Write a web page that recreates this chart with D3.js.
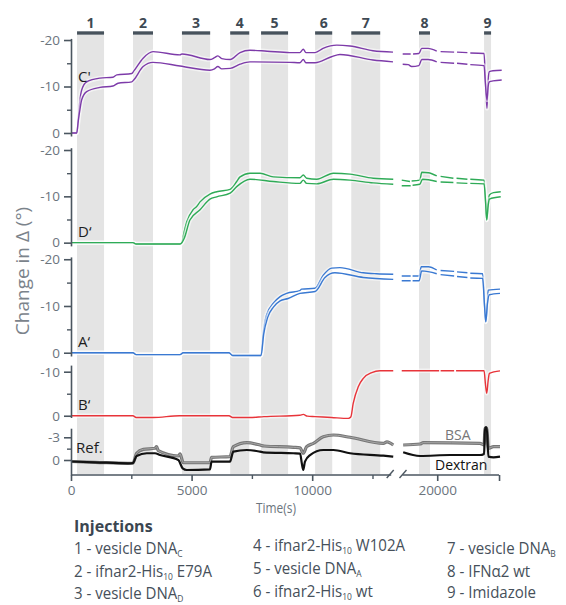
<!DOCTYPE html>
<html>
<head>
<meta charset="utf-8">
<script src="https://cdn.jsdelivr.net/npm/d3@7"></script>
<style>
  body { margin: 0; background: #fff; }
  svg { display: block; }
  text { font-family: "Open Sans", "DejaVu Sans", sans-serif; }
</style>
</head>
<body>
<svg id="chart" width="566" height="605"></svg>
<script>
// ---- Injection schedule (seconds) ----
const injectionIds = ["1", "2", "3", "4", "5", "6", "7", "8", "9"];
const injectionStart = [250, 2570, 4600, 6600, 7880, 10120, 11620, 19245, 21940];
const injectionEnd   = [1370, 3400, 5770, 7390, 9000, 10830, 12820, 19700, 22230];
const injectionNames = [
  "1 - vesicle DNA_{C}",
  "2 - ifnar2-His_{10} E79A",
  "3 - vesicle DNA_{D}",
  "4 - ifnar2-His_{10} W102A",
  "5 - vesicle DNA_{A}",
  "6 - ifnar2-His_{10} wt",
  "7 - vesicle DNA_{B}",
  "8 - IFNα2 wt",
  "9 - Imidazole"
];

// ---- Axis ticks ----
const xTicksMajor = [0, 5000, 10000, 20000];
const xTicksMinor = [2500, 7500, 12500];
const xTickEnd = [22500];
const yTicks20 = [-20, -10, 0];
const yMinor20 = [-15, -5];
const yTicksB = [-10, 0];
const yMinorB = [-5];
const yTicksRef = [-3, 0];
const yMinorRef = [-1.5];

// ---- Traces: [time (s), change in Δ (°)]; null marks a gap in the recording ----
const cTraceA = [[0,0],[240,0],[300,-3],[360,-6.5],[440,-9.2],[650,-11.0],[1200,-11.8],[1740,-12.0],[1900,-12.5],[2520,-12.8],[2600,-13.3],[2990,-16.1],[3400,-17.5],[4520,-16.8],[4600,-17.0],[5760,-15.8],[5950,-16.2],[6090,-16.6],[6250,-16.0],[6600,-15.8],[7010,-17.3],[7420,-17.8],[8130,-17.6],[9080,-17.3],[9490,-17.3],[9630,-18.0],[9740,-17.3],[10120,-17.3],[10450,-18.2],[11020,-18.9],[11570,-18.7],[12520,-17.7],[13350,-17.4],[16000,null],[18570,-17.0],[18900,-17.0],[18950,null],[19000,-17.0],[19240,-17.1],[19360,-18.2],[19620,-18.2],[19980,-17.6],[20080,null],[20140,-17.5],[20700,-17.4],[20760,null],[20820,-17.4],[21250,-17.3],[21310,null],[21370,-17.2],[21940,-17.1],[21990,-12.0],[22060,-5.3],[22110,-11.5],[22160,-13.2],[22310,-13.4],[22670,-13.5]];
const cTraceB = [[0,0],[240,0],[300,-2.5],[370,-5.0],[440,-7.1],[650,-8.9],[1200,-9.8],[1740,-10.1],[1950,-10.7],[2520,-11.0],[2600,-11.4],[2990,-14.3],[3400,-15.2],[4520,-14.4],[5760,-13.5],[5950,-13.8],[6090,-14.3],[6250,-13.8],[6600,-13.9],[7010,-14.8],[7420,-15.3],[9080,-15.2],[9490,-15.1],[9630,-15.8],[9740,-15.1],[10120,-15.1],[10800,-16.4],[11150,-16.9],[12520,-15.7],[13350,-15.3],[16000,null],[18570,-14.8],[18800,-14.7],[18940,-14.3],[19240,-14.5],[19360,-15.8],[19620,-15.8],[19980,-15.3],[20080,null],[20140,-15.2],[20700,-15.0],[20760,null],[20820,-15.0],[21250,-14.8],[21310,null],[21370,-14.7],[21940,-14.5],[21990,-11.0],[22060,-7.1],[22110,-10.0],[22160,-11.0],[22310,-11.2],[22670,-11.4]];

const dTraceA = [[0,0],[2570,0],[2700,0.3],[4520,0.3],[4600,0],[4650,-1.3],[4800,-4.5],[5060,-7.1],[5210,-7.8],[5350,-8.8],[5760,-10.5],[6040,-11.0],[6600,-11.5],[6720,-12.1],[6870,-13.2],[7010,-14.2],[7420,-15.0],[7840,-15.0],[8390,-14.2],[9490,-14.0],[9630,-14.6],[9770,-13.9],[10190,-13.7],[10880,-15.0],[11570,-14.8],[12530,-13.9],[13360,-13.7],[16000,null],[18530,-13.5],[18870,-13.2],[18900,null],[18940,-13.3],[19280,-13.5],[19360,-15.2],[19630,-15.1],[19980,-14.4],[20080,null],[20140,-14.3],[20670,-13.9],[20740,null],[20800,-13.9],[21250,-13.7],[21310,null],[21370,-13.7],[21940,-13.5],[22000,-9.0],[22050,-4.9],[22110,-8.5],[22160,-10.3],[22330,-10.8],[22630,-11.0]];
const dTraceB = [[0,0],[2570,0],[2700,0.3],[4520,0.3],[4600,0],[4700,-1.0],[4930,-4.9],[5350,-7.1],[5760,-9.4],[6040,-9.9],[6600,-10.7],[6870,-12.1],[7420,-13.7],[8390,-13.2],[9490,-12.8],[9630,-13.5],[9770,-12.8],[10190,-12.7],[10880,-13.7],[11570,-13.5],[12530,-12.9],[13360,-12.6],[16000,null],[18530,-12.3],[18900,-12.3],[18940,null],[18980,-12.4],[19280,-12.6],[19390,-13.7],[19980,-13.2],[20080,null],[20140,-13.1],[20670,-13.0],[20740,null],[20800,-12.9],[21250,-12.8],[21310,null],[21370,-12.8],[21940,-12.7],[22000,-9.0],[22050,-4.9],[22110,-8.0],[22160,-9.4],[22630,-9.9]];

const aTraceA = [[0,0],[2570,0],[2700,0.4],[4520,0.4],[4650,0],[6550,0],[6700,0.6],[7880,0.6],[7970,-4.2],[8110,-8.1],[8390,-10.6],[8670,-12.0],[8940,-12.7],[9490,-13.3],[9560,-13.6],[10120,-13.8],[10460,-16.6],[10810,-18.1],[11150,-18.2],[12120,-17.1],[12670,-16.9],[13360,-16.8],[16000,null],[18530,-16.4],[18900,-16.4],[18940,null],[18980,-16.4],[19250,-16.4],[19340,-18.4],[19630,-18.4],[19980,-17.7],[20080,null],[20140,-17.6],[20700,-17.4],[20760,null],[20820,-17.3],[21250,-17.1],[21310,null],[21370,-17.0],[21880,-16.9],[21960,-10.0],[22010,-6.6],[22080,-11.0],[22110,-13.4],[22600,-13.6]];
const aTraceB = [[0,0],[2570,0],[2700,0.4],[4520,0.4],[4650,0],[6550,0],[6700,0.6],[7880,0.6],[7990,-4.0],[8150,-7.5],[8400,-9.8],[8670,-11.1],[9000,-11.6],[9490,-12.7],[10120,-13.1],[10530,-16.1],[10940,-17.1],[12120,-16.1],[13360,-15.7],[16000,null],[18530,-15.4],[18900,-15.4],[18940,null],[18980,-15.4],[19250,-15.4],[19360,-17.5],[19980,-16.9],[20080,null],[20140,-16.7],[20700,-16.4],[20760,null],[20820,-16.3],[21250,-16.1],[21310,null],[21370,-16.0],[21880,-15.9],[21960,-10.0],[22010,-6.6],[22080,-10.5],[22160,-12.4],[22600,-12.7]];

const bTrace = [[0,0],[2570,0],[2700,0.4],[3400,0.4],[4500,0],[6550,0],[6700,0.4],[7400,0.4],[8000,0.2],[9490,-0.1],[9630,-0.3],[9800,0.1],[10120,0.2],[10800,0.4],[11500,0.6],[11600,0.3],[11700,-2.8],[11910,-6.6],[12120,-8.5],[12470,-9.8],[12810,-10.2],[13360,-10.2],[16000,null],[18530,-10.2],[20080,-10.2],[20110,null],[20140,-10.2],[20700,-10.2],[20740,null],[20780,-10.2],[21940,-10.2],[22000,-7.0],[22050,-5.1],[22110,-8.0],[22160,-9.6],[22600,-10.2]];

const bsaTrace = [[0,0.2],[1000,0.3],[2360,0.44],[2570,0.4],[2720,-0.89],[3000,-1.41],[3480,-1.55],[3550,-1.76],[3620,-1.23],[4450,-0.53],[4520,-0.8],[4630,0.22],[4660,0.36],[5760,0.36],[5830,-0.36],[6590,-0.44],[6730,-1.76],[7290,-2.29],[7840,-1.98],[8000,-1.85],[9220,-1.68],[9500,-1.6],[9630,-0.89],[9770,-1.76],[10050,-2.2],[10460,-3.08],[10880,-3.3],[11570,-3.0],[12950,-2.2],[13100,-2.4],[13360,-1.98],[16000,null],[18590,-1.98],[19290,-2.11],[19420,-2.29],[21770,-2.2],[21940,-2.0],[21980,-4.19],[22050,-4.19],[22120,-1.55],[22330,-1.76],[22600,-1.76]];
const dextranTrace = [[0,0.2],[1000,0.3],[2360,0.44],[2570,0.4],[2720,-0.53],[3140,-0.89],[3480,-0.89],[3690,-0.66],[4450,0],[4630,1.1],[4800,1.32],[5760,1.23],[5830,0.22],[6590,0.22],[6730,-1.1],[7290,-1.32],[7840,-1.1],[7970,-1.02],[9220,-0.89],[9500,-0.85],[9570,0.44],[9630,1.32],[9700,0.22],[9910,-0.66],[10460,-1.32],[10880,-1.32],[11570,-0.89],[12950,-0.57],[13360,-0.44],[16000,null],[18590,-1.02],[19290,-0.53],[20530,-0.66],[21770,-0.66],[21940,-0.8],[21980,-4.3],[22050,-4.3],[22120,-0.44],[22330,-0.36],[22600,-0.44]];

// ---- Layout ----
const svg = d3.select("#chart");
const axisColor = "#4b5660";
const tickTextColor = "#6b747d";
const bandTop = 35, bandBottom = 474;

// Broken time axis: 13400 s .. 18500 s is cut out
const x = d3.scaleLinear()
  .domain([0, 13400, 18500, 22600])
  .range([71, 394.2, 401, 500]);

const panels = [
  { label: "C'", traces: [cTraceA, cTraceB], color: "#7d3ba9", domain: [0.65, -20.35], range: [136, 38.4], ticks: yTicks20, minor: yMinor20, lx: 78, ly: 82 },
  { label: "D‘", traces: [dTraceA, dTraceB], color: "#2fab57", domain: [0.7, -20.5], range: [245.9, 147.7], ticks: yTicks20, minor: yMinor20, lx: 78, ly: 237 },
  { label: "A‘", traces: [aTraceA, aTraceB], color: "#3a79d2", domain: [0.7, -20.5], range: [356, 256.9], ticks: yTicks20, minor: yMinor20, lx: 78, ly: 347 },
  { label: "B‘", traces: [bTrace], color: "#e8343a", domain: [0.4, -11.5], range: [417.5, 365.1], ticks: yTicksB, minor: yMinorB, lx: 78, ly: 410 },
  { label: "Ref.", traces: [], color: "#111", domain: [1.98, -4.2], range: [475, 428.2], ticks: yTicksRef, minor: yMinorRef, lx: 76, ly: 453 }
];

// Injection windows (shaded)
svg.append("g").selectAll("rect")
  .data(injectionIds)
  .join("rect")
  .attr("x", (d, i) => x(injectionStart[i]))
  .attr("width", (d, i) => x(injectionEnd[i]) - x(injectionStart[i]))
  .attr("y", bandTop)
  .attr("height", bandBottom - bandTop)
  .attr("fill", "#e4e4e4");

// Injection markers on top
const marks = svg.append("g");
marks.selectAll("line")
  .data(injectionIds)
  .join("line")
  .attr("x1", (d, i) => x(injectionStart[i]))
  .attr("x2", (d, i) => x(injectionEnd[i]))
  .attr("y1", 33).attr("y2", 33)
  .attr("stroke", "#47525c")
  .attr("stroke-width", 3.4);
marks.selectAll("text")
  .data(injectionIds)
  .join("text")
  .attr("x", (d, i) => (x(injectionStart[i]) + x(injectionEnd[i])) / 2)
  .attr("y", 28)
  .attr("text-anchor", "middle")
  .attr("font-size", 14)
  .attr("font-weight", "bold")
  .attr("fill", "#3e4953")
  .text(d => d);

// Panels
panels.forEach(p => {
  const y = d3.scaleLinear().domain(p.domain).range(p.range);
  const line = d3.line()
    .defined(d => d[1] !== null)
    .x(d => x(d[0]))
    .y(d => y(d[1]))
    .curve(d3.curveMonotoneX);
  const g = svg.append("g");

  p.traces.forEach(tr => {
    g.append("path").datum(tr).attr("d", line)
      .attr("fill", "none").attr("stroke", "#fff").attr("stroke-opacity", 0.55)
      .attr("stroke-width", 4.5).attr("stroke-linejoin", "round");
    g.append("path").datum(tr).attr("d", line)
      .attr("fill", "none").attr("stroke", p.color)
      .attr("stroke-width", 1.4).attr("stroke-linejoin", "round");
  });

  if (p.label === "Ref.") {
    g.append("path").datum(bsaTrace).attr("d", line)
      .attr("fill", "none").attr("stroke", "#777").attr("stroke-width", 3.2)
      .attr("stroke-linejoin", "round");
    g.append("path").datum(bsaTrace).attr("d", line)
      .attr("fill", "none").attr("stroke", "#a8a8a8").attr("stroke-width", 1)
      .attr("stroke-linejoin", "round");
    g.append("path").datum(dextranTrace).attr("d", line)
      .attr("fill", "none").attr("stroke", "#111").attr("stroke-width", 2.2)
      .attr("stroke-linejoin", "round");
    g.append("text").attr("x", 445).attr("y", 440)
      .attr("font-family", "Liberation Sans, Arial, sans-serif")
      .attr("font-size", 14).attr("fill", "#777").text("BSA");
    g.append("text").attr("x", 435).attr("y", 470)
      .attr("font-family", "Liberation Sans, Arial, sans-serif")
      .attr("font-size", 14).attr("fill", "#111").text("Dextran");
  }

  // Y axis
  const ax = svg.append("g").attr("transform", "translate(71,0)")
    .call(d3.axisLeft(y).tickValues(p.ticks).tickSize(7).tickSizeOuter(0).tickPadding(4)
      .tickFormat(d => String(d)));
  ax.select(".domain").attr("stroke", axisColor).attr("stroke-width", 1.6);
  ax.selectAll(".tick line").attr("stroke", axisColor).attr("stroke-width", 1.6);
  ax.selectAll(".tick text").attr("font-size", 13.5).attr("fill", tickTextColor)
    .attr("font-family", "Open Sans, sans-serif");
  const axm = svg.append("g").attr("transform", "translate(71,0)")
    .call(d3.axisLeft(y).tickValues(p.minor).tickSize(4).tickFormat(""));
  axm.select(".domain").remove();
  axm.selectAll(".tick line").attr("stroke", axisColor).attr("stroke-width", 1.4);

  // Panel label
  svg.append("text").attr("x", p.lx).attr("y", p.ly)
    .attr("font-family", "Liberation Sans, Arial, sans-serif")
    .attr("font-size", 15).attr("fill", "#1d1d1d").text(p.label);
});

// X axis (two segments around the break)
const xAxisY = 475;
const xg = svg.append("g").attr("transform", `translate(0,${xAxisY})`);
xg.append("line").attr("x1", x(0)).attr("x2", x(13400) - 3)
  .attr("stroke", axisColor).attr("stroke-width", 1.6);
xg.append("line").attr("x1", x(18500) + 1.5).attr("x2", x(22560))
  .attr("stroke", axisColor).attr("stroke-width", 1.6);
const xa = xg.append("g")
  .call(d3.axisBottom(x).tickValues(xTicksMajor).tickSize(6).tickPadding(4).tickFormat(d => String(d)));
xa.select(".domain").remove();
xa.selectAll(".tick line").attr("stroke", axisColor).attr("stroke-width", 1.6);
xa.selectAll(".tick text").attr("font-size", 13.5).attr("fill", tickTextColor)
  .attr("font-family", "Open Sans, sans-serif");
const xm = xg.append("g")
  .call(d3.axisBottom(x).tickValues(xTicksMinor).tickSize(4).tickFormat(""));
xm.select(".domain").remove();
xm.selectAll(".tick line").attr("stroke", axisColor).attr("stroke-width", 1.4);
const xe = xg.append("g")
  .call(d3.axisBottom(x).tickValues(xTickEnd).tickSize(6).tickFormat(""));
xe.select(".domain").remove();
xe.selectAll(".tick line").attr("stroke", axisColor).attr("stroke-width", 1.6)
  .attr("transform", `translate(${x(22560) - x(22500)},0)`);

// Break marks
[x(13400) - 4, x(18500) + 2].forEach(bx => {
  xg.append("line").attr("x1", bx - 3.5).attr("y1", 3).attr("x2", bx + 3.5).attr("y2", -5)
    .attr("stroke", axisColor).attr("stroke-width", 1.4);
});

svg.append("text").attr("x", 276).attr("y", 513).attr("text-anchor", "middle")
  .attr("font-size", 14).attr("fill", tickTextColor)
  .attr("textLength", 40).attr("lengthAdjust", "spacingAndGlyphs")
  .text("Time(s)");

// Y axis title
svg.append("text")
  .attr("transform", "translate(29,271) rotate(-90)")
  .attr("text-anchor", "middle")
  .attr("font-size", 19).attr("fill", "#7b838b")
  .text("Change in Δ (°)");

// Legend
svg.append("text").attr("x", 74).attr("y", 532)
  .attr("font-size", 16).attr("font-weight", "bold").attr("fill", "#3b4650")
  .text("Injections");

const colX = [74, 253, 447];
const rowY = [[554, 577, 599], [551, 574, 597], [554, 577, 598]];
injectionNames.forEach((name, i) => {
  const c = Math.floor(i / 3), r = i % 3;
  const t = svg.append("text")
    .attr("transform", `translate(${colX[c]},${rowY[c][r]}) scale(0.94,1)`)
    .attr("font-size", 16).attr("fill", "#46505a");
  const parts = name.split(/_\{([^}]*)\}/);
  let shifted = false;
  parts.forEach((part, k) => {
    if (part === "") return;
    if (k % 2 === 1) {
      t.append("tspan").attr("dy", 2.5).attr("font-size", 9).text(part);
      shifted = true;
    } else {
      const s = t.append("tspan").text(part);
      if (shifted) { s.attr("dy", -2.5); shifted = false; }
    }
  });
});
</script>
</body>
</html>
